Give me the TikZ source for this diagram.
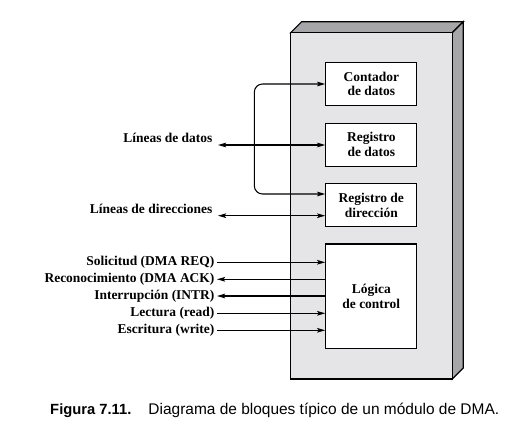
\documentclass[tikz,border=0pt]{standalone}
\usepackage{fontspec}
\setmainfont{Liberation Serif}
\newfontfamily\capfont{Liberation Sans}
\usetikzlibrary{shapes,arrows,arrows.meta,positioning,calc}
\definecolor{facegray}{rgb}{0.90, 0.90, 0.91}
\definecolor{sidegray}{rgb}{0.65, 0.65, 0.66}
\tikzset{
  regbox/.style={draw, fill=white, line width=1pt, align=center,
    minimum width=2.73cm, minimum height=1.29cm, inner sep=0pt,
    font=\fontsize{11.5}{12.5}\selectfont\bfseries},
  sig/.style={anchor=east, inner sep=2pt, font=\fontsize{11.5}{12.5}\selectfont\bfseries},
  wire/.style={line width=0.9pt, >={Stealth[length=7pt, width=4pt, inset=1.5pt]}}
}

\begin{document}
\begin{tikzpicture}[x=0.03cm, y=-0.03cm]
        \useasboundingbox (0,0) rectangle (517,430);
        % DMA module
        \fill[sidegray, draw=black, line width=1pt] (290.7,32.7) -- (301.7,21.7) -- (463.3,21.7) -- (452.3,32.7) -- cycle;
        \fill[sidegray, draw=black, line width=1pt] (452.3,32.7) -- (463.3,21.7) -- (463.3,368) -- (452.3,379) -- cycle;
        \node[draw, fill=facegray, line width=1pt, minimum width=4.85cm, minimum height=10.39cm, inner sep=0pt] (dma) at (371.5,205.85) {};
        
        % Registers
        \node[regbox] (cont) at (371.3,84) {Contador\\de datos};
        \node[regbox] (regd) at (371.3,144.7) {Registro\\de datos};
        \node[regbox] (regdir) at (371.3,205.3) {Registro de\\dirección};
        \node[regbox, minimum height=3.13cm] (logic) at (371.3,296.2) {Lógica\\de control};
        
        % Bus lines
        \node[sig] (ldat) at (215,138) {Líneas de datos};
        \node[sig] (ldir) at (215,208.5) {Líneas de direcciones};
        \coordinate (datend) at (218,145);
        \coordinate (dirend) at (218,215.7);
        \coordinate (loop) at (254.3,84);
        \draw[wire, <->] (datend) -- (regd.west |- datend);
        \draw[wire, <->] (dirend) -- (regdir.west |- dirend);
        \draw[wire, <->, rounded corners=7pt] (cont.west) -- (loop) -- (loop |- 0,194) -- (regdir.west |- 0,194);
        
        % Control lines
        \node[sig] (req) at (217,262.3) {Solicitud (DMA REQ)};
        \node[sig] (ack) at (217,279.3) {Reconocimiento (DMA ACK)};
        \node[sig] (intr) at (217,296) {Interrupción (INTR)};
        \node[sig] (rd) at (217,313.3) {Lectura (read)};
        \node[sig] (wr) at (217,330.3) {Escritura (write)};
        \draw[wire, ->] (req.east) -- (logic.west |- req.east);
        \draw[wire, <-] (ack.east) -- (logic.west |- ack.east);
        \draw[wire, <-] (intr.east) -- (logic.west |- intr.east);
        \draw[wire, ->] (rd.east) -- (logic.west |- rd.east);
        \draw[wire, ->] (wr.east) -- (logic.west |- wr.east);
        
        % Caption
        \node[anchor=west, inner sep=0pt, font=\capfont\fontsize{13.2}{15}\selectfont] (cap) at (50,410)
          {{\bfseries\fontsize{12.6}{15}\selectfont Figura 7.11.}\hspace{1.1em}Diagrama de bloques típico de un módulo de DMA.};
    \end{tikzpicture}
\end{document}
